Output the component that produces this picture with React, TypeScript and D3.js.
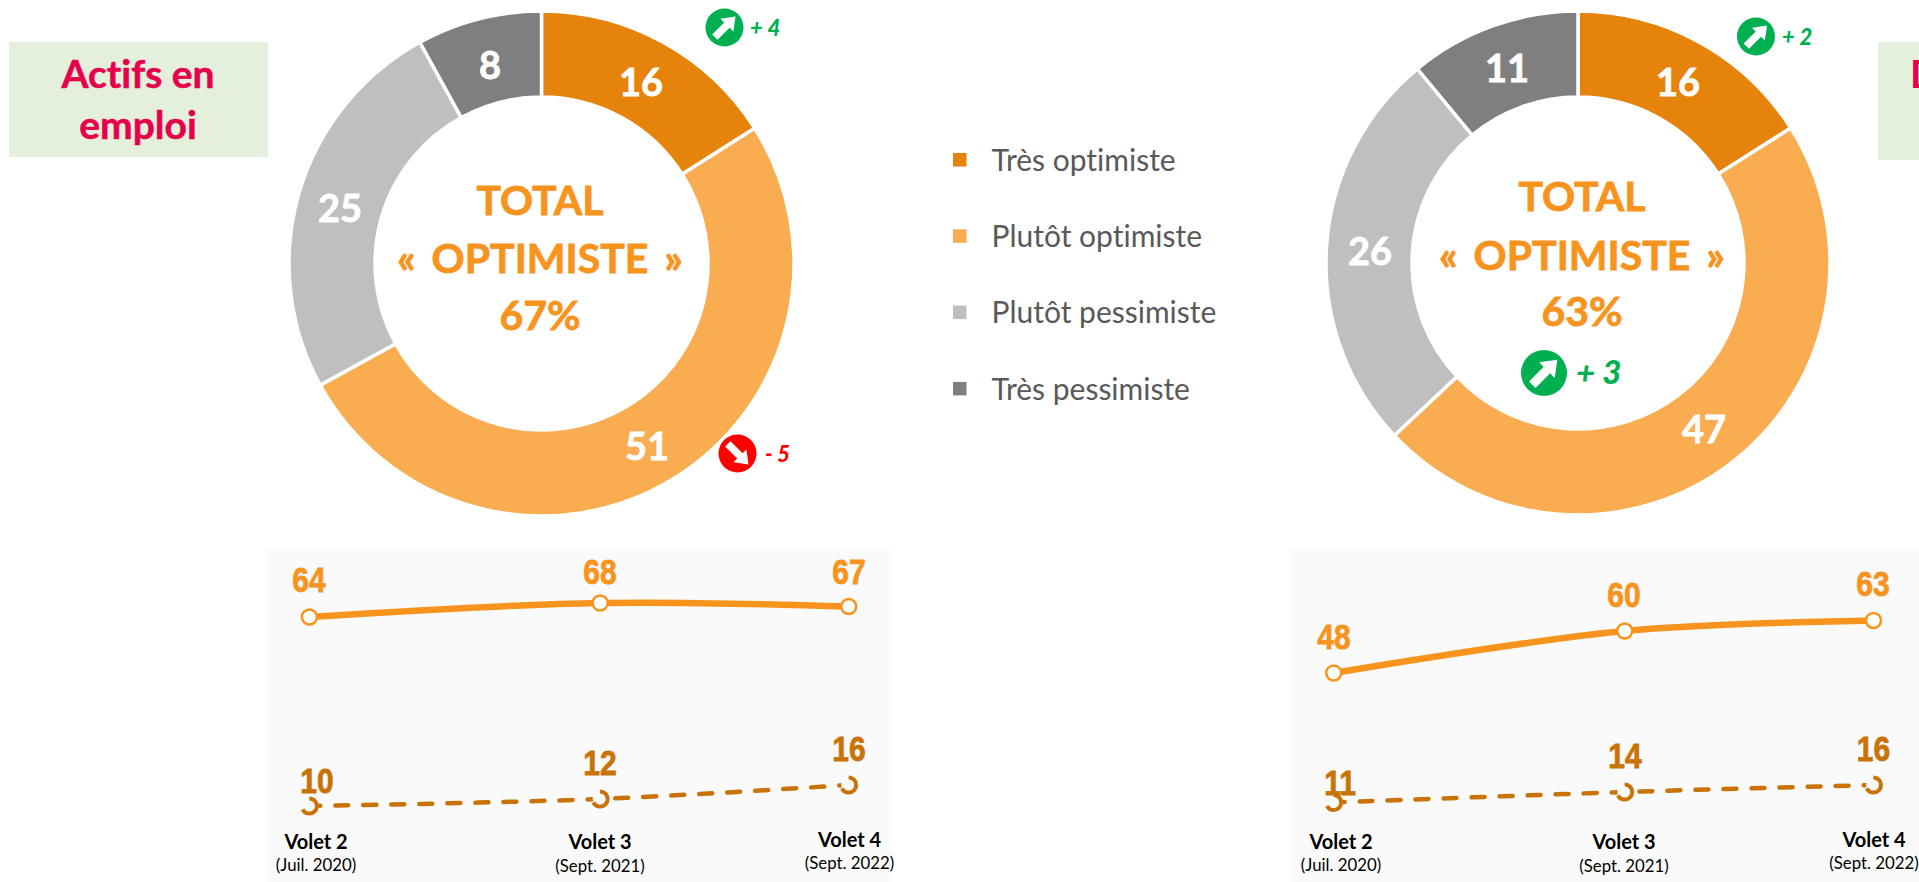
import React from "react";
import * as d3 from "d3";

const segments = ["Très optimiste", "Plutôt optimiste", "Plutôt pessimiste", "Très pessimiste"];
const segmentColors = ["#E6830A", "#FAAC50", "#BFBFBF", "#7F7F7F"];
const emploiValues = [16, 51, 25, 8];
const demandeursValues = [16, 47, 26, 11];
const waveDates = [new Date(2020, 6, 1), new Date(2021, 8, 1), new Date(2022, 8, 1)];
const waveNames = ["Volet 2", "Volet 3", "Volet 4"];
const waveDetails = ["(Juil. 2020)", "(Sept. 2021)", "(Sept. 2022)"];
const emploiTotal = [64, 68, 67];
const emploiTres = [10, 12, 16];
const demandeursTotal = [48, 60, 63];
const demandeursTres = [11, 14, 16];

const LATO = "Lato, Carlito, Calibri, sans-serif";
const ARIAL = "'Liberation Sans', Arial, sans-serif";
const ORANGE = "#F8941E";
const DARK_ORANGE = "#C97307";
const GREEN = "#00B050";
const RED = "#FF0000";
const NOLIG = { fontVariantLigatures: "none" } as const;

const yScale = d3.scaleLinear().domain([10, 68]).range([806, 603]);

function Badge({ cx, cy, r, up, label, tx, ty, size }: any) {
  const color = up ? GREEN : RED;
  const pts: [number, number][] = [[-0.72, -0.2], [0.18, -0.2], [0.18, -0.48], [0.82, 0], [0.18, 0.48], [0.18, 0.2], [-0.72, 0.2]];
  return (
    <g>
      <circle cx={cx} cy={cy} r={r} fill={color} />
      <polygon
        points={pts.map((p) => `${p[0] * r},${p[1] * r}`).join(" ")}
        fill="#fff"
        transform={`translate(${cx},${cy}) rotate(${up ? -45 : 45})`}
      />
      <text x={tx} y={ty} fontFamily={LATO} fontWeight={900} fontStyle="italic" fontSize={size} fill={color}>
        {label}
      </text>
    </g>
  );
}

function Donut({ cx, cy, R, r, values, labelPos, total, lines }: any) {
  const pie = d3.pie<number>().sort(null).value((d) => d);
  const arc = d3.arc<d3.PieArcDatum<number>>().innerRadius(r).outerRadius(R);
  const arcs = pie(values);
  return (
    <g>
      <g transform={`translate(${cx},${cy})`}>
        {arcs.map((a, i) => (
          <path key={i} d={arc(a) as string} fill={segmentColors[i]} stroke="#fff" strokeWidth={3.5} />
        ))}
      </g>
      {arcs.map((a, i) => (
        <text key={i} x={labelPos[i][0]} y={labelPos[i][1]} textAnchor="middle" fontFamily={LATO} fontWeight={700} fontSize={38} fill="#fff" stroke="#fff" strokeWidth={0.8}>
          {a.value}
        </text>
      ))}
      {lines.map((l: any, i: number) => (
        <text key={i} x={total} y={l[1]} textAnchor="middle" fontFamily={LATO} fontWeight={700} fontSize={41} wordSpacing={6} fill={ORANGE} stroke={ORANGE} strokeWidth={0.8}>
          {l[0]}
        </text>
      ))}
    </g>
  );
}

function Trend({ px, pw, x0, x1, total, tres, totalLabels, tresLabels, waveX, waveY }: any) {
  const x = d3.scaleTime().domain([waveDates[0], waveDates[2]]).range([x0, x1]);
  const line = d3
    .line<[Date, number]>()
    .x((d) => x(d[0]))
    .y((d) => yScale(d[1]))
    .curve(d3.curveCatmullRom.alpha(0.5));
  const zip = (v: number[]) => waveDates.map((d, i) => [d, v[i]] as [Date, number]);
  const big = (px: number, py: number) => `translate(${px},${py}) scale(1,1.16)`;
  return (
    <g>
      <rect x={px} y={548} width={pw} height={334} fill="#FAFAFA" />
      <path d={line(zip(tres)) as string} fill="none" stroke={DARK_ORANGE} strokeWidth={4.5} strokeDasharray="13 15" strokeLinecap="round" strokeDashoffset={-26} />
      <path d={line(zip(total)) as string} fill="none" stroke={ORANGE} strokeWidth={6.5} />
      {waveDates.map((d, i) => (
        <g key={i}>
          <circle cx={x(d)} cy={yScale(total[i])} r={7.5} fill="#fff" stroke={ORANGE} strokeWidth={2.5} />
          <circle cx={x(d)} cy={yScale(tres[i])} r={7.5} fill="#FAFAFA" stroke={DARK_ORANGE} strokeWidth={4} strokeDasharray="32 15" strokeDashoffset={12} />
          <text transform={big(totalLabels[i][0], totalLabels[i][1] + 1.5)} textAnchor="middle" fontFamily={ARIAL} fontWeight={700} fontSize={30} fill={ORANGE} stroke={ORANGE} strokeWidth={0.7}>
            {total[i]}
          </text>
          <text transform={big(tresLabels[i][0], tresLabels[i][1] + 1.5)} textAnchor="middle" fontFamily={ARIAL} fontWeight={700} fontSize={30} fill={DARK_ORANGE} stroke={DARK_ORANGE} strokeWidth={0.7}>
            {tres[i]}
          </text>
          <text x={waveX[i]} y={waveY[i][0] + 1.5} textAnchor="middle" fontFamily={LATO} fontWeight={700} fontSize={20} fill="#000" style={NOLIG}>
            {waveNames[i]}
          </text>
          <text x={waveX[i]} y={waveY[i][1]} textAnchor="middle" fontFamily={LATO} fontSize={16.8} fill="#000">
            {waveDetails[i]}
          </text>
        </g>
      ))}
    </g>
  );
}

export default function App() {
  const waveY = [[847, 871], [847, 872], [845, 869]];
  return (
    <svg width={1919} height={882} style={{ position: "fixed", left: 0, top: 0, background: "#fff" }}>
      <rect x={9} y={42} width={259} height={115} fill="#E4F0DC" />
      <g textAnchor="middle" fontFamily={LATO} fontWeight={700} fontSize={39} fill="#E6004C" stroke="#E6004C" strokeWidth={0.5} style={NOLIG}>
        <text x={138} y={88}>Actifs en</text>
        <text x={138} y={139}>emploi</text>
      </g>
      <rect x={1878} y={42} width={41} height={118} fill="#E4F0DC" />
      <text x={1910} y={88} fontFamily={LATO} fontWeight={700} fontSize={39} fill="#E6004C">Demandeurs</text>

      <Donut
        cx={541.5} cy={263.5} R={252.5} r={166.5} values={emploiValues}
        labelPos={[[641, 96], [647, 460], [340, 222], [490, 79]]}
        total={540}
        lines={[["TOTAL", 215], ["« OPTIMISTE »", 273], ["67%", 330]]}
      />
      <Donut
        cx={1578} cy={263} R={252} r={166} values={demandeursValues}
        labelPos={[[1678, 96], [1704, 443], [1370, 265], [1507, 82]]}
        total={1582}
        lines={[["TOTAL", 211], ["« OPTIMISTE »", 269.5], ["63%", 326]]}
      />

      <Badge cx={724.5} cy={27.5} r={19} up label="+ 4" tx={750} ty={36} size={22} />
      <Badge cx={737.5} cy={453.5} r={19} up={false} label="- 5" tx={765} ty={462} size={22} />
      <Badge cx={1756} cy={36.5} r={19} up label="+ 2" tx={1782} ty={45} size={22} />
      <Badge cx={1544} cy={373} r={23} up label="+ 3" tx={1576} ty={384} size={33} />

      {segments.map((s, i) => (
        <g key={s}>
          <rect x={953} y={153 + i * 76.3} width={13.5} height={13.5} fill={segmentColors[i]} />
          <text x={991.5} y={171 + i * 76.2} fontFamily={LATO} fontSize={30} fill="#595959" style={NOLIG}>{s}</text>
        </g>
      ))}

      <Trend
        px={267} pw={624} x0={309.4} x1={848.7} total={emploiTotal} tres={emploiTres}
        totalLabels={[[309, 590], [600, 582], [849, 582]]}
        tresLabels={[[317, 791], [600, 773], [849, 759]]}
        waveX={[316, 600, 849.5]} waveY={waveY}
      />
      <Trend
        px={1291} pw={628} x0={1333.7} x1={1873.5} total={demandeursTotal} tres={demandeursTres}
        totalLabels={[[1334, 647], [1624, 605], [1873, 594]]}
        tresLabels={[[1340, 793], [1625, 766], [1873.5, 759]]}
        waveX={[1341, 1624, 1874]} waveY={waveY}
      />
    </svg>
  );
}
